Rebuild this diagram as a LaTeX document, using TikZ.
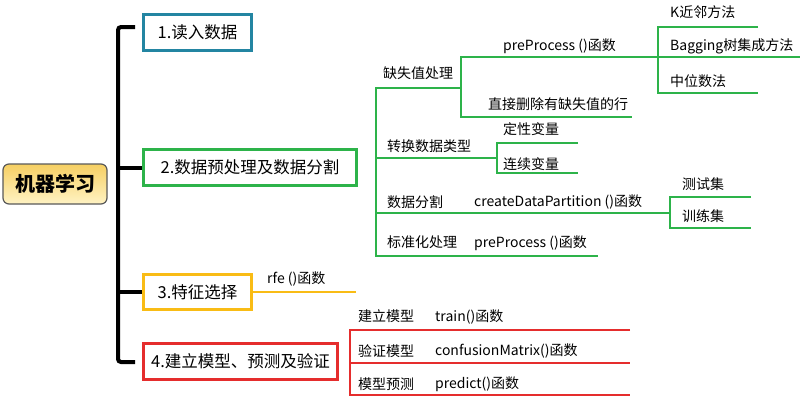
\documentclass[tikz,border=0pt]{standalone}
\usepackage{fontspec}
\setmainfont{Noto Sans CJK SC}
\definecolor{mlblue}{HTML}{2385A2}
\definecolor{mlgreen}{HTML}{2DB34A}
\definecolor{mlyellow}{HTML}{F9BC15}
\definecolor{mlred}{HTML}{E52D2D}
\tikzset{
  stagebox/.style={draw, line width=2.6pt, inner sep=0pt, minimum height=36.5pt,
    font=\fontsize{16.5}{16.5}\selectfont},
  lbl/.style={anchor=west, inner sep=0pt, font=\fontsize{14}{14}\selectfont},
  gline/.style={draw=mlgreen, line width=2.5pt},
  rline/.style={draw=mlred, line width=2.5pt},
}
\begin{document}
\begin{tikzpicture}[x=1pt,y=-1pt]
	\useasboundingbox (0,0) rectangle (800,410);
	% root and stages
	\node[draw=black!65, line width=1.2pt, rounded corners=6pt, top color={rgb,255:red,246;green,207;blue,98},
		bottom color={rgb,255:red,255;green,243;blue,196}, minimum width=104pt, minimum height=40pt,
		font=\fontsize{20}{20}\selectfont\bfseries] (root) at (55,184) {机器学习};
	\node[stagebox, draw=mlblue, minimum width=108.5pt] (s1) at (197.5,32.5) {1.读入数据};
	\node[stagebox, draw=mlgreen, minimum width=213.5pt] (s2) at (250,167.5) {2.数据预处理及数据分割};
	\node[stagebox, draw=mlyellow, minimum width=108.5pt, minimum height=35.5pt] (s3) at (197.5,292) {3.特征选择};
	\node[stagebox, draw=mlred, minimum width=194.5pt] (s4) at (240.5,361.5) {4.建立模型、预测及验证};
	\coordinate (spine) at (118,0);
	\coordinate (t1) at (135,27);
	\coordinate (t4) at (135,362);
	\draw[line width=4pt, rounded corners=3pt] (t1) -- (t1 -| spine) -- (t4 -| spine) -- (t4);
	\draw[line width=4pt] (s2.west) -- (s2.west -| spine);
	\draw[line width=4pt] (s3.west) -- (s3.west -| spine);
	% feature selection
	\coordinate (rfe) at (356,292);
	\draw[draw=mlyellow, line width=2.4pt] (s3.east) -- (rfe);
	\node[lbl] (f1) at (267,279) {rfe ()函数};
	% preprocessing tree
	\coordinate (g1) at (376,88);
	\coordinate (g2) at (376,158);
	\coordinate (g3) at (376,213);
	\coordinate (g4) at (376,256);
	\coordinate (m1) at (461,88);
	\coordinate (c1) at (497,158);
	\coordinate (d1) at (670,213);
	\draw[gline] (m1) -- (g1) -- (g4) -- (598,256);
	\draw[gline] (g2) -- (c1);
	\draw[gline] (g3) -- (d1);
	\draw[gline] (800,57) -- (461,57) -- (461,117) -- (632,117);
	\draw[gline] (758,27) -- (658,27) -- (658,93) -- (758,93);
	\draw[gline] (578,143) -- (497,143) -- (497,173) -- (578,173);
	\draw[gline] (751,197) -- (670,197) -- (670,228) -- (751,228);
	\node[lbl] (p1) at (383,73.5) {缺失值处理};
	\node[lbl] (p11) at (503,46.5) {preProcess ()函数};
	\node[lbl] (p12) at (488,104) {直接删除有缺失值的行};
	\node[lbl] (k1) at (670,12.5) {K近邻方法};
	\node[lbl] (k2) at (670,46) {Bagging树集成方法};
	\node[lbl] (k3) at (670,81) {中位数法};
	\node[lbl] (p2) at (387,146.5) {转换数据类型};
	\node[lbl] (p21) at (503,129.5) {定性变量};
	\node[lbl] (p22) at (503,164) {连续变量};
	\node[lbl] (p3) at (387,202) {数据分割};
	\node[lbl] (p31) at (474,202) {createDataPartition ()函数};
	\node[lbl] (d11) at (682,184) {测试集};
	\node[lbl] (d12) at (682,216.5) {训练集};
	\node[lbl] (p4) at (387,242.5) {标准化处理};
	\node[lbl] (p41) at (474,243) {preProcess ()函数};
	% model tree
	\draw[rline] (630,330) -- (350,330) -- (350,395) -- (630,395);
	\draw[rline] (350,363) -- (630,363);
	\node[lbl] (r1) at (358,316.5) {建立模型};
	\node[lbl] (r11) at (435,316.5) {train()函数};
	\node[lbl] (r2) at (358,351) {验证模型};
	\node[lbl] (r21) at (435,351) {confusionMatrix()函数};
	\node[lbl] (r3) at (358,384.5) {模型预测};
	\node[lbl] (r31) at (435,384.5) {predict()函数};
\end{tikzpicture}
\end{document}
